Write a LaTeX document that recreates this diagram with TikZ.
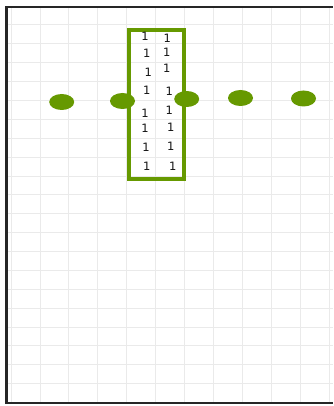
\documentclass[tikz,border=0pt]{standalone}
\usepackage{fontspec}
\setmainfont{DejaVu Sans}
\usetikzlibrary{shapes.geometric}
\definecolor{leaf}{RGB}{102,153,0}
\definecolor{gridgray}{RGB}{234,234,234}
\tikzset{
  dot/.style={ellipse, fill=leaf, draw=none, minimum width=25pt, minimum height=16pt, inner sep=0pt},
  one/.style={inner sep=0pt, font=\fontsize{11.5}{11.5}\selectfont, text=black!92},
  frame/.style={draw=black!85},
}
\begin{document}
\begin{tikzpicture}[x=1pt,y=-1pt]
\useasboundingbox (0,0) rectangle (333,406);
\fill[white] (0,0) rectangle (333,406);
% grid
\foreach \i in {-1,...,10} {
  \draw[gridgray, line width=1pt] ({40+28.9*\i},8) -- ({40+28.9*\i},403);
}
\foreach \j in {0,...,19} {
  \draw[gridgray, line width=1pt] (8,{25+18.88*\j}) -- (333,{25+18.88*\j});
}
% frame
\draw[frame, line width=2pt] (5,7.3) -- (333,7.3);
\draw[frame, line width=2pt] (5,403.3) -- (333,403.3);
\draw[frame, line width=3pt] (6.7,6.3) -- (6.7,404.3);
% box
\node[draw=leaf, line width=4pt, minimum width=55.4pt, minimum height=149pt, inner sep=0pt] (box) at (156.5,104.2) {};
% ones
\node[one] (l1) at (145,36.7) {1};
\node[one] (l2) at (146.7,53.3) {1};
\node[one] (l3) at (148.3,72.7) {1};
\node[one] (l4) at (146.7,90.7) {1};
\node[one] (l5) at (145,113.3) {1};
\node[one] (l6) at (145,128.3) {1};
\node[one] (l7) at (146,147.3) {1};
\node[one] (l8) at (146.7,166) {1};
\node[one] (r1) at (167.3,38.3) {1};
\node[one] (r2) at (166.7,52.7) {1};
\node[one] (r3) at (166.7,68.3) {1};
\node[one] (r4) at (169.3,91.7) {1};
\node[one] (r5) at (169.3,110.7) {1};
\node[one] (r6) at (170.7,127.3) {1};
\node[one] (r7) at (170.7,146) {1};
\node[one] (r8) at (172.7,166.7) {1};
% dots
\node[dot] (d1) at (61.7,102) {};
\node[dot] (d2) at (122.5,101) {};
\node[dot] (d3) at (186.7,99) {};
\node[dot] (d4) at (240.5,98) {};
\node[dot] (d5) at (303.5,98.5) {};
\end{tikzpicture}
\end{document}
